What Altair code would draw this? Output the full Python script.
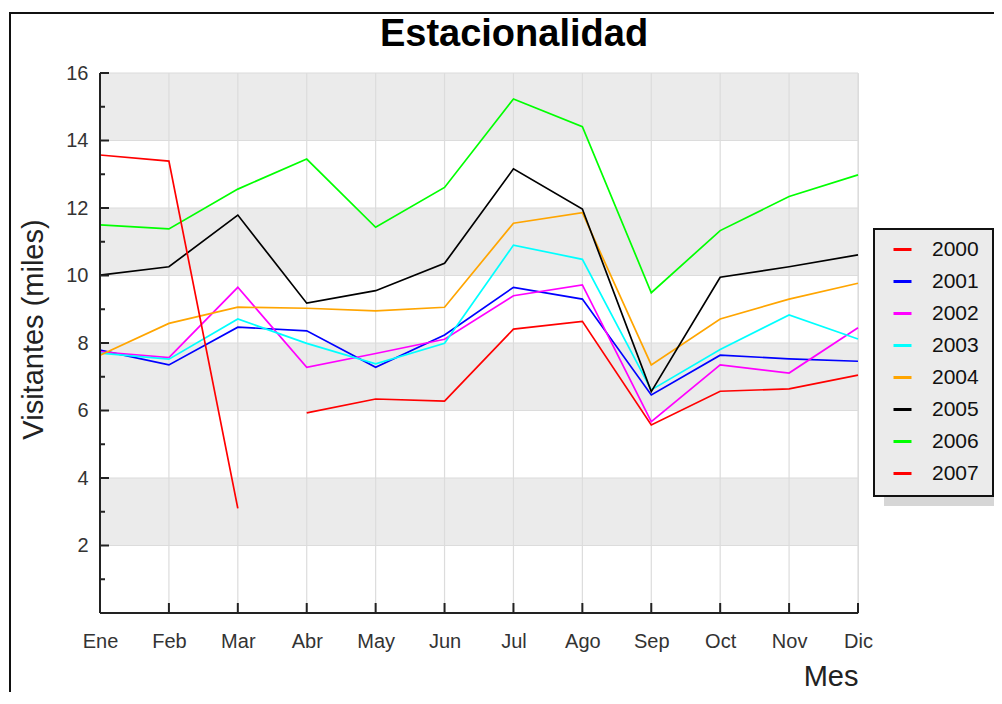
import altair as alt
import pandas as pd

months = ["Ene", "Feb", "Mar", "Abr", "May", "Jun", "Jul", "Ago", "Sep", "Oct", "Nov", "Dic"]
years = ["2000", "2001", "2002", "2003", "2004", "2005", "2006", "2007"]
colors = ["#ff0000", "#0000ff", "#ff00ff", "#00ffff", "#ffa500", "#000000", "#00ff00", "#ff0000"]

v2000 = [None, None, None, 5.93, 6.34, 6.28, 8.41, 8.64, 5.57, 6.57, 6.64, 7.05]
v2001 = [7.79, 7.35, 8.47, 8.36, 7.28, 8.24, 9.65, 9.30, 6.46, 7.64, 7.53, 7.46]
v2002 = [7.74, 7.57, 9.65, 7.28, 7.69, 8.11, 9.40, 9.72, 5.67, 7.35, 7.11, 8.45]
v2003 = [7.70, 7.52, 8.71, 7.99, 7.38, 7.99, 10.90, 10.48, 6.61, 7.81, 8.83, 8.12]
v2004 = [7.64, 8.58, 9.06, 9.03, 8.95, 9.06, 11.55, 11.86, 7.35, 8.71, 9.30, 9.77]
v2005 = [10.01, 10.26, 11.79, 9.18, 9.55, 10.36, 13.16, 11.97, 6.56, 9.95, 10.26, 10.61]
v2006 = [11.50, 11.38, 12.56, 13.45, 11.43, 12.61, 15.23, 14.41, 9.49, 11.33, 12.34, 12.98]
v2007 = [13.57, 13.39, 3.10, None, None, None, None, None, None, None, None, None]

y_major = [2, 4, 6, 8, 10, 12, 14, 16]
y_minor = [1, 3, 5, 7, 9, 11, 13, 15]
gray_lo = [2, 6, 10, 14]
gray_hi = [4, 8, 12, 16]

series = [v2000, v2001, v2002, v2003, v2004, v2005, v2006, v2007]
rows = []
for yr, vals in zip(years, series):
    for m, v in zip(months, vals):
        if v is not None:
            rows.append({"Mes": m, "Visitantes": v, "Año": yr})
df = pd.DataFrame(rows)

W, H = 758, 540
FONT = "Liberation Sans"

xs = alt.Scale(type="point", padding=0, domain=months)
ys = alt.Scale(domain=[0, 16], nice=False, zero=True)

x_axis = alt.Axis(title="Mes", labelAngle=0, ticks=False, tickSize=0, domain=False, grid=False,
                  labelPadding=18, labelFontSize=20, labelFont=FONT, labelColor="#333333",
                  titleFontSize=29, titleFont=FONT, titleFontWeight="normal", titleColor="#222222",
                  titleAlign="right", titleAnchor="end", titleX=W, titleY=72,
                  titleBaseline="alphabetic", zindex=2)
y_axis = alt.Axis(title="Visitantes (miles)", values=y_major, ticks=False, tickSize=0,
                  domain=False, grid=False, labelPadding=12, labelFontSize=20, labelFont=FONT,
                  labelColor="#333333", titleFontSize=29, titleFont=FONT,
                  titleFontWeight="normal", titleColor="#222222", titleAngle=-90,
                  titleAlign="center", titleX=-58, titleY=256, titleBaseline="alphabetic",
                  zindex=2)

bands = alt.Chart(pd.DataFrame({"Visitantes": gray_lo, "hi": gray_hi})).mark_rect(color="#ebebeb").encode(
    x=alt.value(0), x2=alt.value(W),
    y=alt.Y("Visitantes:Q", scale=ys, axis=y_axis), y2="hi:Q")

vgrid = alt.Chart(pd.DataFrame({"Mes": months})).mark_rule(color="#dcdcdc", strokeWidth=1.2).encode(
    x=alt.X("Mes:N", scale=xs, sort=months, axis=x_axis), y=alt.value(0), y2=alt.value(H))

hgrid = alt.Chart(pd.DataFrame({"Visitantes": y_major})).mark_rule(color="#dcdcdc", strokeWidth=1.2).encode(
    y=alt.Y("Visitantes:Q", scale=ys, axis=y_axis), x=alt.value(0), x2=alt.value(W))

lines = alt.Chart(df).mark_line(strokeWidth=1.7).encode(
    x=alt.X("Mes:N", scale=xs, sort=months, axis=x_axis),
    y=alt.Y("Visitantes:Q", scale=ys, axis=y_axis),
    color=alt.Color("Año:N", scale=alt.Scale(domain=years, range=colors),
                    legend=alt.Legend(title=None, orient="none", legendX=792, legendY=166,
                                      symbolType="stroke", symbolSize=324, symbolStrokeWidth=3,
                                      labelFontSize=21, labelFont=FONT, labelColor="#111111",
                                      labelOffset=19, rowPadding=10, padding=0)),
    detail="Año:N",
)

one = pd.DataFrame({"k": [0]})

xticks = alt.Chart(pd.DataFrame({"Mes": months})).mark_rule(color="#222222", strokeWidth=2).encode(
    x=alt.X("Mes:N", scale=xs, sort=months, axis=x_axis), y=alt.value(H - 10), y2=alt.value(H))

yticks_major = alt.Chart(pd.DataFrame({"Visitantes": y_major})).mark_rule(color="#222222", strokeWidth=2).encode(
    y=alt.Y("Visitantes:Q", scale=ys, axis=y_axis), x=alt.value(0), x2=alt.value(9))

yticks_minor = alt.Chart(pd.DataFrame({"Visitantes": y_minor})).mark_rule(color="#222222", strokeWidth=2).encode(
    y=alt.Y("Visitantes:Q", scale=ys, axis=y_axis), x=alt.value(0), x2=alt.value(5))

yaxis_line = alt.Chart(one).mark_rule(color="#222222", strokeWidth=2).encode(
    x=alt.value(0), y=alt.value(0), y2=alt.value(H))
xaxis_line = alt.Chart(one).mark_rule(color="#222222", strokeWidth=2).encode(
    y=alt.value(H), x=alt.value(0), x2=alt.value(W))

shadow = alt.Chart(one).mark_rect(color="#d6d6d6").encode(
    x=alt.value(784), x2=alt.value(907), y=alt.value(166), y2=alt.value(433))
legbox = alt.Chart(one).mark_rect(fill="#ebebeb", stroke="#111111", strokeWidth=2).encode(
    x=alt.value(774), x2=alt.value(893), y=alt.value(156), y2=alt.value(423))

frame = alt.Chart(one).mark_rect(filled=False, stroke="#111111", strokeWidth=2).encode(
    x=alt.value(-90), x2=alt.value(1200), y=alt.value(-60), y2=alt.value(900))

chart = alt.layer(
    bands, vgrid, hgrid, shadow, legbox, lines,
    xticks, yticks_major, yticks_minor, yaxis_line, xaxis_line, frame,
).properties(
    width=W, height=H,
    title=alt.Title("Estacionalidad", fontSize=38, font=FONT, fontWeight="bold", anchor="middle",
                    frame="group", dx=35, offset=-72, baseline="alphabetic", color="#000000"),
    autosize=alt.AutoSizeParams(type="none"),
    padding={"left": 92, "top": 65, "right": 136, "bottom": 79},
).configure_view(stroke=None, fill="#ffffff").configure(background="#ffffff")

chart.save("out.html", embed_options={"renderer": "svg", "actions": False})
